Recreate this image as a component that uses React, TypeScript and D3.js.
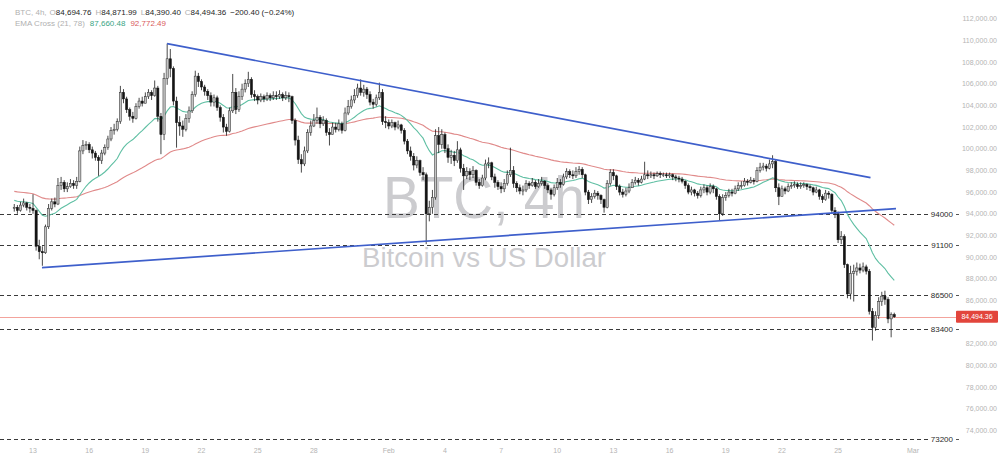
import React from 'react';
import * as d3 from 'd3';

const W = 1000;
const H = 463;

// BTC/USD 4h candles, prices in thousands USD, first bar Jan 12 2025 00:00 UTC
const firstOpen = 94.5;
const closes = [
  94.6, 94.3, 94.8, 95.0, 94.6, 94.5,
  94.3, 91.0, 90.5, 90.4, 92.8, 94.5,
  95.1, 94.9, 96.6, 96.9, 96.3, 96.5,
  96.8, 96.6, 97.0, 99.8, 100.3, 100.4,
  99.9, 99.6, 99.2, 98.9, 99.6, 100.1,
  100.9, 101.7, 101.8, 102.5, 105.2, 104.6,
  103.6, 103.0, 102.8, 103.9, 104.4, 104.2,
  104.8, 105.2, 104.9, 105.6, 103.0, 101.3,
  106.5, 108.3, 107.4, 104.4, 102.4, 102.1,
  101.8, 102.8, 103.5, 105.0, 106.7, 106.2,
  105.7, 105.3, 104.9, 104.3, 104.7, 103.8,
  102.9, 102.0, 101.6, 103.5, 105.2, 103.6,
  104.8, 105.5, 106.0, 106.4, 105.0, 104.8,
  104.5, 104.8, 104.6, 104.9, 104.7, 104.9,
  104.8, 105.0, 104.7, 104.9, 104.8, 102.6,
  100.8, 99.0, 98.6, 99.8, 101.5, 102.1,
  102.6, 102.9, 102.3, 102.6, 101.5, 101.3,
  102.0, 101.8, 102.3, 101.7, 103.3, 103.9,
  104.5, 104.9, 105.6, 105.2, 105.5, 105.0,
  104.3, 104.1, 104.7, 105.2, 102.5, 102.4,
  102.1, 102.4, 102.0, 102.2, 101.7, 100.7,
  99.8, 99.3, 98.5, 98.9, 97.8, 97.6,
  94.0, 94.6, 95.5, 101.2, 100.4, 101.3,
  100.0, 99.2, 99.4, 98.9, 99.9, 98.2,
  97.5, 97.9, 97.6, 98.0, 96.9, 96.6,
  97.3, 98.6, 98.7, 97.4, 96.9, 96.5,
  96.3, 96.8, 97.6, 98.0, 96.8, 96.4,
  96.1, 96.2, 96.8, 96.6, 96.9, 96.5,
  96.8, 97.0, 96.6, 96.2, 95.8, 96.4,
  96.9, 96.7, 97.4, 97.9, 97.6, 97.5,
  97.9, 98.1, 97.6, 96.0, 95.3, 95.6,
  95.9, 95.7, 95.3, 94.6, 96.8, 97.8,
  97.5, 96.5, 96.0, 95.8, 96.1, 96.4,
  96.9, 97.1, 96.9, 97.2, 97.6, 97.5,
  97.6, 97.5, 97.7, 97.6, 97.6, 97.5,
  97.6, 97.4, 97.3, 97.2, 97.0, 96.6,
  96.0, 96.2, 95.9, 95.7, 96.2, 96.4,
  96.0, 96.5, 96.3, 95.6, 94.0, 95.5,
  95.7, 96.0, 95.9, 96.3, 96.6, 96.6,
  97.0, 96.9, 97.1, 97.0, 98.0, 98.3,
  98.4, 98.2, 98.6, 98.8, 96.4, 95.6,
  96.3, 96.1, 96.5, 96.6, 96.7, 96.5,
  96.6, 96.7, 96.5, 96.4, 96.0, 96.2,
  95.6, 95.3, 95.9, 95.8, 94.3, 94.0,
  91.6, 91.9, 89.3, 86.6, 88.5, 88.7,
  89.0, 88.8, 89.1, 88.7, 85.0, 83.5,
  84.6, 85.9, 86.4, 86.1, 84.3, 84.69476,
  84.49436,
];
const highs = [
  94.9, 94.8, 95.1, 95.4, 95.1, 94.9,
  95.8, 94.4, 91.6, 91.0, 93.0, 94.9,
  95.4, 95.5, 97.3, 97.4, 97.1, 96.9,
  97.2, 97.1, 97.4, 100.2, 100.8, 100.7,
  100.6, 100.2, 99.8, 99.4, 99.9, 100.4,
  101.2, 102.0, 102.3, 102.8, 105.8, 105.5,
  104.8, 103.8, 103.4, 104.2, 104.7, 104.8,
  105.2, 105.5, 105.4, 106.3, 105.8, 103.3,
  107.0, 109.7, 109.2, 107.6, 104.8, 103.0,
  102.6, 103.2, 103.9, 105.3, 107.2, 107.0,
  106.4, 105.9, 105.5, 105.2, 105.0, 104.9,
  104.0, 103.2, 102.3, 103.8, 106.9, 105.6,
  105.3, 106.0, 106.4, 107.1, 106.6, 105.4,
  105.0, 105.1, 105.0, 105.2, 105.1, 105.3,
  105.3, 105.4, 105.2, 105.3, 105.2, 104.9,
  102.8, 101.2, 99.5, 100.2, 101.8, 102.6,
  103.2, 103.8, 103.1, 103.0, 102.8, 101.9,
  102.4, 102.4, 102.7, 102.5, 103.8, 104.5,
  104.9, 105.5, 106.0, 106.4, 105.9, 105.7,
  105.3, 104.6, 105.0, 106.1, 105.5, 103.0,
  102.7, 102.7, 102.5, 102.6, 102.3, 101.9,
  100.9, 100.2, 99.6, 99.3, 99.0, 98.3,
  97.8, 95.2, 96.2, 101.8, 102.0, 101.8,
  101.5, 100.4, 99.9, 99.8, 100.7, 100.1,
  98.6, 98.3, 98.2, 98.4, 98.1, 97.2,
  97.6, 99.0, 99.2, 98.8, 97.7, 97.1,
  96.9, 97.2, 98.0, 100.1, 98.4, 97.0,
  96.7, 96.6, 97.1, 97.0, 97.3, 97.1,
  97.2, 97.4, 97.1, 96.8, 96.4, 96.7,
  97.3, 97.2, 97.7, 98.2, 98.1, 98.0,
  98.3, 98.4, 98.3, 97.7, 96.2, 95.9,
  96.2, 96.1, 95.8, 95.4, 97.1, 98.1,
  98.1, 97.6, 96.7, 96.3, 96.4, 96.8,
  97.2, 97.4, 97.3, 97.5, 98.8, 98.0,
  97.9, 97.8, 97.9, 97.9, 97.8, 97.8,
  97.8, 97.7, 97.6, 97.5, 97.4, 97.1,
  96.8, 96.5, 96.3, 96.1, 96.5, 96.7,
  96.6, 96.8, 96.7, 96.4, 95.8, 95.8,
  96.0, 96.3, 96.3, 96.6, 96.9, 97.0,
  97.3, 97.2, 97.4, 97.3, 98.3, 98.7,
  98.7, 98.6, 99.0, 99.4, 99.0, 96.8,
  96.6, 96.5, 96.8, 96.9, 97.0, 96.9,
  96.9, 96.9, 96.8, 96.7, 96.5, 96.5,
  96.3, 95.8, 96.2, 96.1, 95.9, 94.6,
  94.2, 92.4, 92.1, 89.4, 89.2, 89.3,
  89.5, 89.4, 89.5, 89.3, 88.9, 85.3,
  85.0, 86.3, 86.8, 86.9, 86.3, 84.9,
  84.87199,
];
const lows = [
  94.2, 94.0, 94.2, 94.6, 94.3, 94.1,
  94.0, 90.6, 89.8, 89.2, 90.3, 92.6,
  94.3, 94.6, 94.8, 96.2, 96.0, 96.0,
  96.4, 96.3, 96.3, 96.9, 99.5, 99.9,
  99.6, 99.1, 98.9, 97.5, 98.6, 99.4,
  99.9, 100.7, 101.3, 101.6, 102.3, 104.2,
  103.3, 102.6, 102.4, 102.7, 103.7, 103.9,
  104.3, 104.6, 104.5, 104.8, 102.5, 99.5,
  100.8, 105.9, 106.6, 104.0, 100.1, 101.2,
  101.1, 101.6, 102.4, 103.3, 104.8, 105.7,
  105.4, 104.9, 104.5, 103.9, 103.9, 103.5,
  102.5, 101.5, 101.2, 101.5, 103.3, 103.2,
  103.4, 104.5, 105.2, 105.7, 104.7, 104.4,
  104.1, 104.3, 104.3, 104.4, 104.4, 104.5,
  104.5, 104.6, 104.4, 104.5, 104.3, 102.3,
  100.3, 98.6, 97.8, 98.4, 99.6, 101.2,
  102.0, 102.3, 101.9, 102.1, 101.2, 100.3,
  101.3, 101.5, 101.6, 101.4, 101.6, 103.1,
  103.7, 104.2, 104.7, 104.9, 104.8, 104.6,
  104.0, 103.7, 103.9, 104.5, 102.2, 101.9,
  101.8, 101.9, 101.7, 101.8, 101.4, 100.4,
  99.5, 98.9, 98.0, 98.2, 97.5, 97.1,
  91.2, 93.3, 94.0, 95.3, 99.6, 100.0,
  99.6, 98.7, 98.6, 98.4, 98.7, 97.8,
  96.2, 97.2, 97.1, 97.3, 96.6, 96.3,
  96.5, 97.1, 98.2, 97.1, 96.4, 96.2,
  95.9, 96.0, 96.6, 97.4, 96.4, 96.0,
  95.8, 95.7, 96.0, 96.3, 96.5, 96.3,
  96.4, 96.6, 96.3, 95.9, 95.3, 95.6,
  96.2, 96.4, 96.6, 97.2, 97.3, 97.2,
  97.3, 97.6, 97.3, 95.7, 94.9, 95.0,
  95.4, 95.3, 94.9, 94.1, 94.5, 96.6,
  97.1, 96.2, 95.7, 95.5, 95.6, 95.9,
  96.4, 96.7, 96.6, 96.8, 97.1, 97.2,
  97.3, 97.2, 97.4, 97.3, 97.4, 97.3,
  97.3, 97.1, 97.0, 96.9, 96.8, 96.3,
  95.8, 95.7, 95.6, 95.4, 95.5, 95.9,
  95.7, 95.8, 95.9, 95.3, 93.4, 93.8,
  95.2, 95.5, 95.6, 95.8, 96.1, 96.3,
  96.5, 96.6, 96.8, 96.7, 96.9, 97.8,
  98.0, 97.9, 98.1, 98.2, 96.0, 94.8,
  95.6, 95.8, 96.0, 96.3, 96.4, 96.3,
  96.3, 96.4, 96.2, 96.1, 95.7, 95.9,
  95.3, 95.0, 95.2, 95.4, 94.0, 93.6,
  91.3, 91.2, 89.0, 86.2, 86.1, 85.9,
  88.3, 88.5, 88.6, 88.4, 84.7, 82.3,
  83.2, 84.3, 85.5, 85.6, 83.9, 82.6,
  84.3904,
];

const ema21Seed = 95.3;
const ema78Seed = 96.1;

const xTickDates = [
  '2025-01-13', '2025-01-16', '2025-01-19', '2025-01-22', '2025-01-25', '2025-01-28',
  '2025-02-01', '2025-02-04', '2025-02-07', '2025-02-10', '2025-02-13', '2025-02-16',
  '2025-02-19', '2025-02-22', '2025-02-25', '2025-03-01',
];
const xTickLabels = ['13', '16', '19', '22', '25', '28', 'Feb', '4', '7', '10', '13', '16', '19', '22', '25', 'Mar'];

const yTickValues = [
  74000, 76000, 78000, 80000, 82000, 86000, 88000, 90000, 92000, 94000,
  96000, 98000, 100000, 102000, 104000, 106000, 108000, 110000, 112000,
];

const levelValues = [94000, 91100, 86500, 83400, 73200];

const upperTrendTimes = ['2025-01-20T03:50:00Z', '2025-02-26T17:30:00Z'];
const upperTrendPrices = [109694, 97330];
const lowerTrendTimes = ['2025-01-13T11:30:00Z', '2025-02-28T02:10:00Z'];
const lowerTrendPrices = [89030, 94473];

const header = {
  symbol: 'BTC, 4h,',
  o: '84,694.76',
  h: '84,871.99',
  l: '84,390.40',
  c: '84,494.36',
  chg: '\u2212200.40 (\u22120.24%)',
  ema: 'EMA Cross (21, 78)',
  ema21: '87,660.48',
  ema78: '92,772.49',
};
const lastPriceLabel = '84,494.36';
const watermarkTitle = 'BTC, 4h';
const watermarkSubtitle = 'Bitcoin vs US Dollar';

const FONT = "'Liberation Sans', Arial, sans-serif";

export default function App() {
  const startMs = Date.UTC(2025, 0, 12, 0);
  const stepMs = 4 * 3600 * 1000;

  const x = d3.scaleUtc()
    .domain([new Date('2025-01-13T00:00:00Z'), new Date('2025-03-01T00:00:00Z')])
    .range([33, 913]);
  const y = d3.scaleLinear().domain([74000, 112000]).range([430.5, 18.7]);

  const bars = closes.map((c, i) => ({
    t: new Date(startMs + i * stepMs),
    o: (i === 0 ? firstOpen : closes[i - 1]) * 1000,
    h: highs[i] * 1000,
    l: lows[i] * 1000,
    c: c * 1000,
  }));

  const ema = (period: number, seed: number) => {
    const a = 2 / (period + 1);
    let v = seed * 1000;
    return bars.map((b) => {
      v = a * b.c + (1 - a) * v;
      return { t: b.t, v };
    });
  };
  const e21 = ema(21, ema21Seed);
  const e78 = ema(78, ema78Seed);
  const line = d3.line<{ t: Date; v: number }>().x((d) => x(d.t)).y((d) => y(d.v));

  const bw = 2.2;
  const lastPrice = closes[closes.length - 1] * 1000;
  const yLast = y(lastPrice);

  const trendLine = (times: string[], prices: number[]) =>
    d3.line<number>()
      .x((_, i) => x(new Date(times[i])))
      .y((p) => y(p))(prices) as string;

  return (
    <svg width={W} height={H} style={{ position: 'absolute', left: 0, top: 0, background: '#fff' }} fontFamily={FONT}>
      <rect width={W} height={H} fill="#ffffff" />
      {/* watermark */}
      <text x={484} y={218} textAnchor="middle" fontSize={60} fill="#cccccf" textLength={202} lengthAdjust="spacingAndGlyphs">{watermarkTitle}</text>
      <text x={484} y={267} textAnchor="middle" fontSize={27} fill="#cccccf" textLength={244} lengthAdjust="spacingAndGlyphs">{watermarkSubtitle}</text>

      {/* horizontal levels */}
      {levelValues.map((v) => (
        <g key={v}>
          <line x1={0} x2={928} y1={Math.round(y(v)) + 0.5} y2={Math.round(y(v)) + 0.5} stroke="#3a3a3a" strokeWidth={1} strokeDasharray="4 3" />
          <text x={953} y={y(v) + 3} textAnchor="end" fontSize={8} fill="#2a2a2a">{v}</text>
          <line x1={956} x2={959} y1={Math.round(y(v)) + 0.5} y2={Math.round(y(v)) + 0.5} stroke="#555" strokeWidth={1} />
        </g>
      ))}

      {/* last price line */}
      <line x1={0} x2={957} y1={Math.round(yLast) + 0.5} y2={Math.round(yLast) + 0.5} stroke="#f3a39c" strokeWidth={1} />

      {/* EMAs */}
      <path d={line(e78) as string} fill="none" stroke="#e08a8a" strokeWidth={1.1} />
      <path d={line(e21) as string} fill="none" stroke="#5fbfa3" strokeWidth={1.1} />

      {/* candles */}
      {bars.map((b, i) => {
        const cx = x(b.t);
        const up = b.c >= b.o;
        const top = y(Math.max(b.o, b.c));
        const bot = y(Math.min(b.o, b.c));
        const hi = y(Math.max(b.h, b.o, b.c));
        const lo = y(Math.min(b.l, b.o, b.c));
        return (
          <g key={i}>
            <line x1={cx} x2={cx} y1={hi} y2={lo} stroke="#1b1b1b" strokeWidth={0.8} />
            <rect
              x={cx - bw / 2}
              y={top}
              width={bw}
              height={Math.max(bot - top, 0.8)}
              fill={up ? '#c4c4c4' : '#141414'}
              stroke={up ? '#2a2a2a' : '#141414'}
              strokeWidth={0.5}
            />
          </g>
        );
      })}

      {/* trend lines */}
      <path d={trendLine(upperTrendTimes, upperTrendPrices)} stroke="#3e5fcb" strokeWidth={1.7} fill="none" />
      <path d={trendLine(lowerTrendTimes, lowerTrendPrices)} stroke="#3e5fcb" strokeWidth={1.7} fill="none" />

      {/* y axis labels */}
      {yTickValues.map((v) => (
        <text key={v} x={997} y={y(v) + 2.5} textAnchor="end" fontSize={7} fill="#b4b4b4">
          {d3.format(',.2f')(v)}
        </text>
      ))}

      {/* last price tag */}
      <rect x={956} y={yLast - 6} width={42} height={12} rx={1} fill="#e2453c" />
      <text x={977} y={yLast + 2.5} textAnchor="middle" fontSize={7} fill="#ffffff">{lastPriceLabel}</text>

      {/* x axis labels */}
      {xTickDates.map((d, i) => (
        <text key={d} x={x(new Date(d + 'T00:00:00Z'))} y={453} textAnchor="middle" fontSize={7} fill="#b4b4b4">
          {xTickLabels[i]}
        </text>
      ))}

      {/* header */}
      <text x={15} y={15} fontSize={8} fill="#b0b0b0">
        <tspan>{header.symbol}</tspan>
        <tspan dx={3}>O</tspan><tspan fill="#1e1e1e">{header.o}</tspan>
        <tspan dx={4}>H</tspan><tspan fill="#1e1e1e">{header.h}</tspan>
        <tspan dx={4}>L</tspan><tspan fill="#1e1e1e">{header.l}</tspan>
        <tspan dx={4}>C</tspan><tspan fill="#1e1e1e">{header.c}</tspan>
        <tspan dx={4} fill="#1e1e1e">{header.chg}</tspan>
      </text>
      <text x={15} y={26} fontSize={8} fill="#b0b0b0">
        <tspan>{header.ema}</tspan>
        <tspan dx={5} fill="#3aa585">{header.ema21}</tspan>
        <tspan dx={5} fill="#d9595a">{header.ema78}</tspan>
      </text>
    </svg>
  );
}
